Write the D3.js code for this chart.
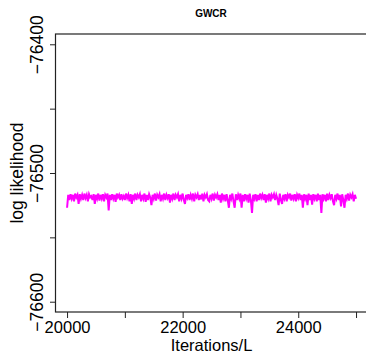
<!DOCTYPE html>
<html>
<head>
<meta charset="utf-8">
<script src="https://cdn.jsdelivr.net/npm/d3@7"></script>
<style>
  html, body { margin: 0; padding: 0; background: #fff; }
  svg { display: block; }
  text { font-family: "Liberation Sans", Arial, Helvetica, sans-serif; }
</style>
</head>
<body>
<div id="chart"></div>
<script>
// trace sampled every 20 iterations, starting at 20000
const startIter = 20000;
const iterStep = 20;
const logLik = [
  -76527, -76517, -76521, -76516.5, -76520, -76517, -76522, -76516, -76519, -76517,
  -76524, -76516.5, -76520, -76517, -76521, -76516, -76519.5, -76517, -76522, -76516.5,
  -76519, -76518, -76521, -76516.5, -76524, -76517, -76520, -76516, -76521.5, -76517,
  -76520, -76516.5, -76522, -76517, -76519, -76516, -76529, -76517, -76521, -76516.5,
  -76520, -76517, -76522.5, -76516, -76519, -76517, -76521, -76516.5, -76520, -76518,
  -76521, -76516, -76519.5, -76517, -76522, -76516.5, -76524, -76517, -76520, -76516,
  -76521, -76517, -76519, -76516.5, -76522, -76517, -76520, -76516, -76522.5, -76517,
  -76521, -76516.5, -76519, -76525, -76517, -76520, -76516, -76521.5, -76517, -76519,
  -76516.5, -76522, -76517, -76520, -76516, -76521, -76517, -76519.5, -76516.5, -76523,
  -76517, -76520, -76516, -76521, -76517, -76519, -76516.5, -76522, -76517, -76520,
  -76516, -76521, -76524, -76517, -76519.5, -76516.5, -76521, -76517, -76520, -76516,
  -76522, -76517, -76519, -76516.5, -76521, -76517, -76520.5, -76516, -76522, -76517,
  -76519, -76516.5, -76521, -76522, -76517, -76520, -76516, -76521.5, -76517, -76519,
  -76516.5, -76521, -76517, -76523, -76516, -76520, -76517, -76522, -76516.5, -76521,
  -76527, -76517, -76520, -76516, -76522, -76527, -76516.5, -76521, -76517, -76520,
  -76516, -76527, -76517, -76522, -76516.5, -76520, -76517, -76523, -76516, -76521,
  -76531, -76517, -76520, -76516.5, -76522, -76517, -76521, -76516, -76519.5, -76517,
  -76521, -76516.5, -76523, -76517, -76520, -76516, -76522, -76517, -76519, -76516.5,
  -76521, -76517, -76520, -76525, -76516, -76521, -76524, -76517, -76520, -76516.5,
  -76522, -76517, -76519, -76516, -76521.5, -76517, -76520, -76516.5, -76522, -76517,
  -76519.5, -76516, -76521, -76517, -76527, -76516.5, -76520, -76517, -76525, -76516,
  -76521, -76517, -76524.5, -76516.5, -76520, -76517, -76522, -76516, -76521, -76517,
  -76531, -76516.5, -76520, -76517, -76522, -76516, -76521, -76517, -76519.5, -76516.5,
  -76522, -76525, -76517, -76520, -76516, -76521, -76517, -76526, -76516.5, -76521,
  -76527, -76517, -76520, -76516, -76521.5, -76517, -76519, -76516.5, -76522, -76517,
  -76520
];
const xTicks = [20000, 21000, 22000, 23000, 24000, 25000];
const xTickLabels = ['20000', '', '22000', '', '24000', ''];
const yTicks = [-76400, -76450, -76500, -76550, -76600];
const yTickLabels = ['\u221276400', '', '\u221276500', '', '\u221276600'];

const W = 366, H = 357;
const box = { left: 55.5, top: 34, right: 367.6, bottom: 312 };

const svg = d3.select('#chart').append('svg')
  .attr('width', W)
  .attr('height', H);

const x = d3.scaleLinear().domain([19800, 25200]).range([box.left, box.right]);
const y = d3.scaleLinear().domain([-76608, -76392]).range([box.bottom, box.top]);

const line = d3.line()
  .x((d, i) => x(startIter + i * iterStep))
  .y(d => y(d));

svg.append('path')
  .datum(logLik)
  .attr('fill', 'none')
  .attr('stroke', '#ff00ff')
  .attr('stroke-width', 2)
  .attr('stroke-linejoin', 'miter')
  .attr('d', line);

// plot box
svg.append('rect')
  .attr('x', box.left)
  .attr('y', box.top)
  .attr('width', box.right - box.left)
  .attr('height', box.bottom - box.top)
  .attr('fill', 'none')
  .attr('stroke', '#222')
  .attr('stroke-width', 1.2);

// x axis
const gx = svg.append('g')
  .attr('transform', 'translate(0,' + box.bottom + ')')
  .call(d3.axisBottom(x).tickValues(xTicks).tickSize(6).tickSizeOuter(0)
    .tickFormat((d, i) => xTickLabels[i]));
gx.select('.domain').remove();
gx.selectAll('.tick line').attr('stroke', '#222');
gx.selectAll('.tick text')
  .attr('y', 20.5)
  .attr('dy', 0)
  .attr('fill', '#000')
  .style('font-size', '16.5px');

// y axis
const gy = svg.append('g')
  .attr('transform', 'translate(' + box.left + ',0)')
  .call(d3.axisLeft(y).tickValues(yTicks).tickSize(5.5).tickSizeOuter(0)
    .tickFormat((d, i) => yTickLabels[i]));
gy.select('.domain').remove();
gy.selectAll('.tick line').attr('stroke', '#222');
gy.selectAll('.tick text')
  .attr('x', null)
  .attr('dy', 0)
  .attr('transform', 'translate(-12.5,0) rotate(-90)')
  .attr('text-anchor', 'middle')
  .attr('fill', '#000')
  .style('font-size', '17.5px');

// title and axis labels
svg.append('text')
  .attr('x', 211)
  .attr('y', 16.7)
  .attr('text-anchor', 'middle')
  .style('font-size', '10px')
  .style('font-weight', 'bold')
  .text('GWCR');

svg.append('text')
  .attr('x', (box.left + box.right) / 2)
  .attr('y', 351)
  .attr('text-anchor', 'middle')
  .style('font-size', '16.5px')
  .text('Iterations/L');

svg.append('text')
  .attr('transform', 'translate(22.5,' + ((box.top + box.bottom) / 2) + ') rotate(-90)')
  .attr('text-anchor', 'middle')
  .style('font-size', '17.5px')
  .text('log likelihood');
</script>
</body>
</html>
